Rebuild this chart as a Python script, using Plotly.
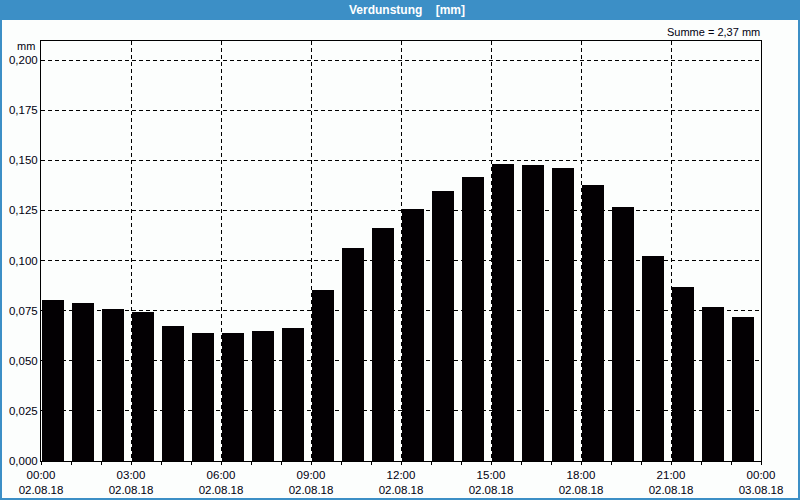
import plotly.graph_objects as go

hours = list(range(24))
values = [0.0803, 0.0788, 0.0758, 0.0743, 0.0673, 0.0638, 0.0638, 0.0648,
          0.0663, 0.0853, 0.1062, 0.1162, 0.1257, 0.1347, 0.1416, 0.1481,
          0.1476, 0.1461, 0.1377, 0.1267, 0.1022, 0.0868, 0.0768, 0.0718]
tick_hours = [0, 3, 6, 9, 12, 15, 18, 21, 24]
tick_labels = ["00:00<br>02.08.18", "03:00<br>02.08.18", "06:00<br>02.08.18",
               "09:00<br>02.08.18", "12:00<br>02.08.18", "15:00<br>02.08.18",
               "18:00<br>02.08.18", "21:00<br>02.08.18", "00:00<br>03.08.18"]
y_ticks = [0, 0.025, 0.05, 0.075, 0.1, 0.125, 0.15, 0.175, 0.2]
title_text = "Verdunstung    [mm]"
sum_text = "Summe = 2,37 mm"
unit_text = "mm"

W, H = 800, 500
L, R, T, B = 41, 761, 41, 461
def px(x):
    return (x - L) / (R - L)
def py(y):
    return (B - y) / (B - T)

FONT = "Liberation Sans"
BLUE = "#3c8fc6"
BG = "#fcfefd"

fig = go.Figure()
fig.add_trace(go.Bar(x=hours, y=values, width=22/30, offset=1.2/30,
                     marker=dict(color="#030003", line=dict(width=0))))

fig.update_layout(
    width=W, height=H,
    margin=dict(l=L, r=W - R, t=T, b=H - B),
    paper_bgcolor=BG, plot_bgcolor=BG,
    separators=",.",
    showlegend=False,
    bargap=0,
    font=dict(family=FONT, size=11.5, color="#000010"),
    xaxis=dict(range=[0, 24], tickmode="array", tickvals=tick_hours, ticktext=tick_labels,
               showgrid=True, gridcolor="#000000", gridwidth=1, griddash="4px,3px",
               showline=True, linecolor="#000000", linewidth=1, mirror=True,
               ticks="outside", ticklen=3, tickcolor="#000000",
               minor=dict(dtick=1, tick0=0, ticks="outside", ticklen=3, tickcolor="#000000", showgrid=False),
               zeroline=False, fixedrange=True, automargin=False),
    yaxis=dict(range=[0, 0.2095], tickmode="array", tickvals=y_ticks, tickformat=".3f",
               showgrid=True, gridcolor="#000000", gridwidth=1, griddash="4px,3px",
               showline=True, linecolor="#000000", linewidth=1, mirror=True,
               ticks="", zeroline=False, fixedrange=True, automargin=False),
    shapes=[
        dict(type="rect", xref="paper", yref="paper",
             x0=px(0), x1=px(W), y0=py(0), y1=py(20),
             fillcolor=BLUE, line=dict(width=0), layer="above"),
        dict(type="rect", xref="paper", yref="paper",
             x0=px(1), x1=px(W - 1), y0=py(1), y1=py(H - 1),
             fillcolor="rgba(0,0,0,0)", line=dict(color=BLUE, width=2), layer="above"),
    ],
    annotations=[
        dict(text="<b>" + title_text.replace(" ", "&nbsp;") + "</b>", xref="paper", yref="paper",
             x=px(407), y=py(10), xanchor="center", yanchor="middle", showarrow=False,
             font=dict(family=FONT, size=12, color="#ffffff")),
        dict(text=sum_text, xref="paper", yref="paper",
             x=px(762), y=py(32), xanchor="right", yanchor="middle", showarrow=False,
             font=dict(family=FONT, size=11, color="#000010")),
        dict(text=unit_text, xref="paper", yref="paper",
             x=px(37), y=py(46), xanchor="right", yanchor="middle", showarrow=False,
             font=dict(family=FONT, size=11, color="#000010")),
    ],
)

fig.write_html("out.html", config={"displayModeBar": False})
